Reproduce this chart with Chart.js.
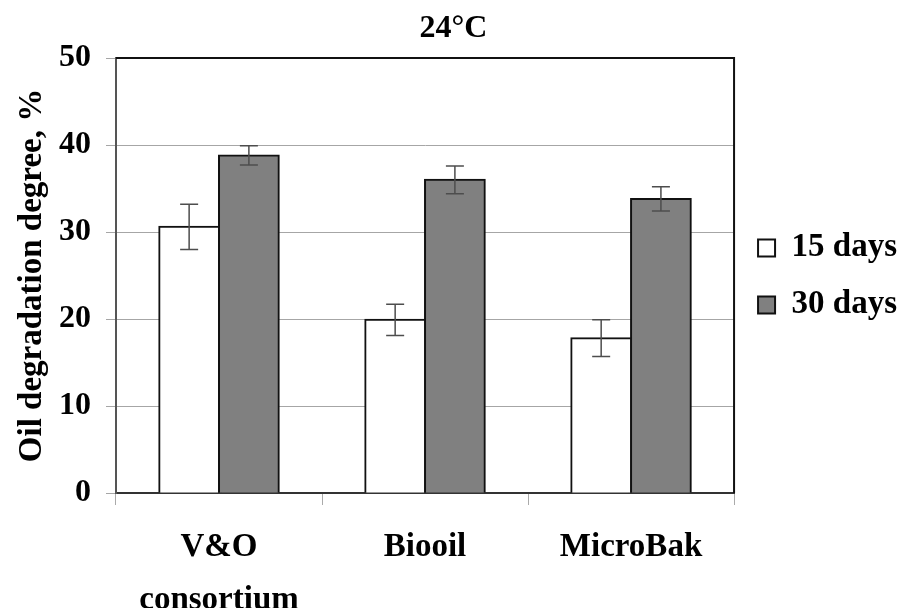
<!DOCTYPE html>
<html>
<head>
<meta charset="utf-8">
<script src="https://cdn.jsdelivr.net/npm/chart.js@4"></script>
<style>
  html, body { margin: 0; padding: 0; background: #fff; }
  #wrap { width: 904px; height: 608px; }
</style>
</head>
<body>
<div id="wrap"><canvas id="barChart" width="904" height="608"></canvas></div>
<script>
const categories = [["V&O", "consortium"], "Biooil", "MicroBak"];
const days15 = [30.6, 19.9, 17.8];
const days15Err = [2.6, 1.8, 2.1];
const days30 = [38.8, 36.0, 33.8];
const days30Err = [1.1, 1.6, 1.4];
const yTicks = [0, 10, 20, 30, 40, 50];

const serif = "'Liberation Serif', 'Times New Roman', serif";

// error bars + the black top/right frame of the plot
const errorBars = {
    id: "errorBars",
    afterDatasetsDraw(chart) {
        const ctx = chart.ctx;
        const y = chart.scales.y;
        ctx.save();
        ctx.strokeStyle = "#4d4d4d";
        ctx.lineWidth = 1.5;
        chart.data.datasets.forEach((ds, i) => {
            const meta = chart.getDatasetMeta(i);
            meta.data.forEach((bar, j) => {
                const v = ds.data[j], e = ds.errors[j];
                const top = y.getPixelForValue(v + e);
                const bot = y.getPixelForValue(v - e);
                ctx.beginPath();
                ctx.moveTo(bar.x, top); ctx.lineTo(bar.x, bot);
                ctx.moveTo(bar.x - 9, top); ctx.lineTo(bar.x + 9, top);
                ctx.moveTo(bar.x - 9, bot); ctx.lineTo(bar.x + 9, bot);
                ctx.stroke();
            });
        });
        const a = chart.chartArea;
        ctx.strokeStyle = "#111";
        ctx.lineWidth = 2;
        ctx.beginPath();
        ctx.moveTo(a.left, a.top); ctx.lineTo(a.right, a.top); ctx.lineTo(a.right, a.bottom);
        ctx.stroke();
        ctx.restore();
    }
};

new Chart(document.getElementById("barChart").getContext("2d"), {
    type: "bar",
    data: {
        labels: categories,
        datasets: [
            { label: "15 days", data: days15, errors: days15Err, backgroundColor: "#ffffff", borderColor: "#111", borderWidth: 2 },
            { label: "30 days", data: days30, errors: days30Err, backgroundColor: "#808080", borderColor: "#111", borderWidth: 2 }
        ]
    },
    options: {
        responsive: false,
        animation: false,
        datasets: { bar: { categoryPercentage: 0.58, barPercentage: 1, inflateAmount: 1 } },
        layout: { padding: { left: 0, right: -3, top: 1, bottom: 0 } },
        plugins: {
            title: {
                display: true, text: "24°C", color: "#000",
                font: { family: serif, size: 32, weight: "bold" },
                padding: { top: 9, bottom: 9.6 }
            },
            legend: {
                position: "right",
                align: "start",
                // empty legend title only pushes the items down
                title: { display: true, text: "", font: { size: 12 }, padding: { top: 192, bottom: 0 } },
                labels: {
                    color: "#000", boxWidth: 17, boxHeight: 17, padding: 24,
                    font: { family: serif, size: 33, weight: "bold" }
                }
            },
            tooltip: { enabled: false }
        },
        scales: {
            x: {
                afterFit: s => { s.height = 115; },
                grid: { drawOnChartArea: false, tickLength: 12, color: "#aaa" },
                border: { color: "#333", width: 2 },
                ticks: {
                    color: "#000", padding: 16,
                    font: { family: serif, size: 33, weight: "bold", lineHeight: 1.6 }
                }
            },
            y: {
                min: 0, max: 50,
                afterFit: s => { s.width = 116; },
                afterBuildTicks: s => { s.ticks = yTicks.map(v => ({ value: v })); },
                grid: { color: "#a6a6a6", tickLength: 10 },
                border: { color: "#555", width: 2 },
                ticks: {
                    color: "#000", padding: 15,
                    font: { family: serif, size: 32, weight: "bold" }
                },
                title: {
                    display: true, text: "Oil degradation degree, %", color: "#000",
                    font: { family: serif, size: 33, weight: "bold" },
                    padding: { top: 13, bottom: 0 }
                }
            }
        }
    },
    plugins: [errorBars]
});
</script>
</body>
</html>
